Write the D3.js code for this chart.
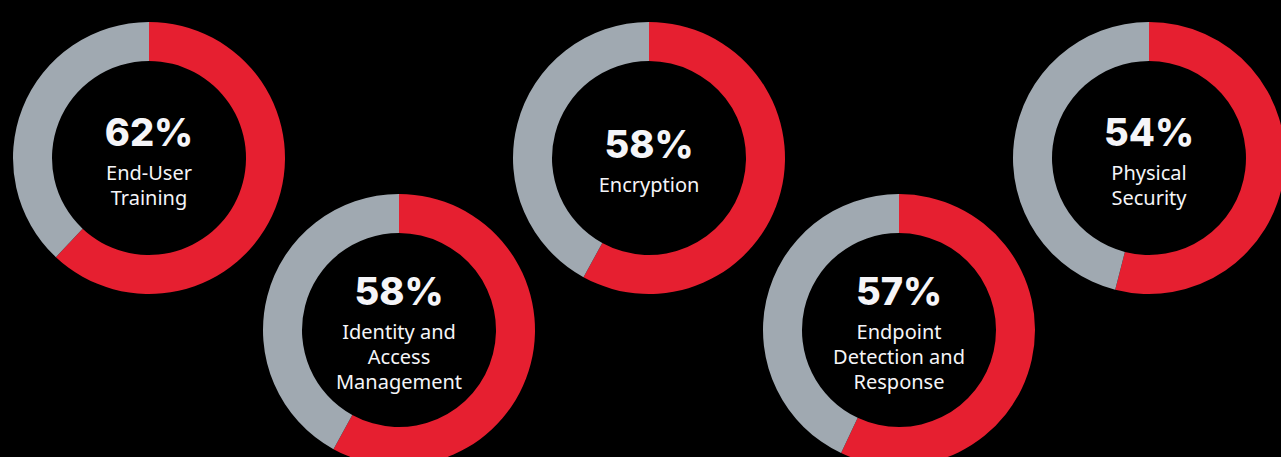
<!DOCTYPE html>
<html>
<head>
<meta charset="utf-8">
<script src="https://cdn.jsdelivr.net/npm/d3@7"></script>
<style>
  html, body { margin: 0; padding: 0; background: #000; }
  svg { display: block; }
</style>
</head>
<body>
<div id="chart"></div>
<script>

    // data
    var values = [62, 58, 58, 57, 54];
    var labels = [
        ["End-User", "Training"],
        ["Identity and", "Access", "Management"],
        ["Encryption"],
        ["Endpoint", "Detection and", "Response"],
        ["Physical", "Security"]
    ];

    var w = 1281;
    var h = 457;

    var redColor = "#e61f30";
    var greyColor = "#a0a9b1";
    var textColor = "#f5f5f8";

    var outerR = 136;
    var innerR = 97;
    var lineStep = 25;

    var svg = d3.select("#chart").append("svg")
        .attr("width", w).attr("height", h);

    svg.append("rect").attr("width", w).attr("height", h).attr("fill", "#000");

    // centre positions along x, alternating up / down
    var x = d3.scalePoint().domain(d3.range(values.length)).range([149, 1149]);
    var y = i => (i % 2 === 0 ? 158 : 330);

    var arc = d3.arc().innerRadius(innerR).outerRadius(outerR);
    var pie = d3.pie().sort(null).value(d => d);

    var donut = svg.selectAll(".donut")
        .data(values)
        .enter().append("g")
        .attr("class", "donut")
        .attr("transform", (d, i) => "translate(" + x(i) + "," + y(i) + ")");

    donut.selectAll("path")
        .data(d => pie([d, 100 - d]))
        .enter().append("path")
        .attr("d", arc)
        .attr("fill", (d, i) => i === 0 ? redColor : greyColor);

    donut.each(function(v, i) {
        var g = d3.select(this);
        var lines = labels[i];
        var top = -(lines.length - 1) * lineStep / 2;

        g.append("text")
            .attr("text-anchor", "middle")
            .attr("y", top)
            .attr("fill", textColor)
            .style("font-family", "Inter, Lato, sans-serif")
            .style("font-weight", 800)
            .style("font-size", "38px")
            .text(v + "%");

        g.selectAll(".lbl")
            .data(lines)
            .enter().append("text")
            .attr("class", "lbl")
            .attr("text-anchor", "middle")
            .attr("y", (d, j) => top + 34 + j * lineStep)
            .attr("fill", textColor)
            .style("font-family", "'Noto Sans', sans-serif")
            .style("font-size", "20px")
            .text(d => d);
    });

</script>
</body>
</html>
